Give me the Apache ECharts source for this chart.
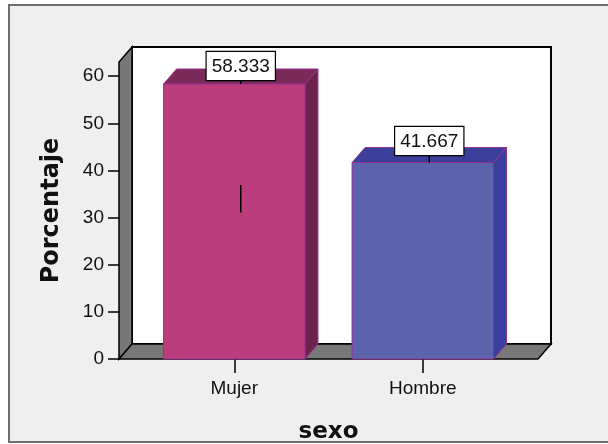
<!DOCTYPE html>
<html>
<head>
<meta charset="utf-8">
<script src="https://cdn.jsdelivr.net/npm/echarts@6/dist/echarts.min.js"></script>
<style>
  html, body { margin: 0; padding: 0; background: #ffffff; }
  #chart { width: 608px; height: 444px; }
</style>
</head>
<body>
<div id="chart"></div>
<script>
// Percentage of respondents by sex
const categories = ['Mujer', 'Hombre'];
const percentages = [58.333, 41.667];
const yTicks = [0, 10, 20, 30, 40, 50, 60];
// short vertical stroke shown inside the first bar (value range)
const innerStems = [[31.1, 36.9], null];

// 3D styling
const DEPTH_X = 13;
const DEPTH_Y = -15;
const PAD = 21;
const faceColors = {
  front: ['#bb3d7d', '#5b63ad'],
  top: ['#7a2a58', '#3b3f99'],
  side: ['#70224f', '#3a3e9c']
};
const edgeColor = '#93308f';
const wallColor = '#787878';

function renderFrame(params, api) {
  const cs = params.coordSys;
  const L = cs.x - PAD, R = cs.x + cs.width + PAD;
  const T = cs.y, B = cs.y + cs.height;
  return {
    type: 'group',
    children: [
      { type: 'rect', shape: { x: L + DEPTH_X, y: T + DEPTH_Y, width: R - L, height: B - T },
        style: { fill: '#ffffff', stroke: '#000000', lineWidth: 2 } },
      { type: 'polygon', shape: { points: [[L, B], [L, T], [L + DEPTH_X, T + DEPTH_Y], [L + DEPTH_X, B + DEPTH_Y]] },
        style: { fill: wallColor, stroke: '#000000', lineWidth: 1.5 } },
      { type: 'polygon', shape: { points: [[L, B], [R, B], [R + DEPTH_X, B + DEPTH_Y], [L + DEPTH_X, B + DEPTH_Y]] },
        style: { fill: wallColor, stroke: '#000000', lineWidth: 1.5 } }
    ]
  };
}

function renderBar(params, api) {
  const i = api.value(0);
  const v = api.value(1);
  const cs = params.coordSys;
  const top = api.coord([i, v]);
  const base = api.coord([i, 0]);
  const w = api.size([1, 0])[0] * 0.75;
  const x0 = top[0] - w / 2, x1 = top[0] + w / 2;
  const yt = top[1], yb = base[1];
  const edge = { stroke: edgeColor, lineWidth: 1 };
  const children = [
    { type: 'polygon', shape: { points: [[x1, yt], [x1 + DEPTH_X, yt + DEPTH_Y], [x1 + DEPTH_X, yb + DEPTH_Y], [x1, yb]] },
      style: Object.assign({ fill: faceColors.side[i] }, edge) },
    { type: 'polygon', shape: { points: [[x0, yt], [x1, yt], [x1 + DEPTH_X, yt + DEPTH_Y], [x0 + DEPTH_X, yt + DEPTH_Y]] },
      style: Object.assign({ fill: faceColors.top[i] }, edge) },
    { type: 'rect', shape: { x: x0, y: yt, width: w, height: yb - yt },
      style: Object.assign({ fill: faceColors.front[i] }, edge) }
  ];
  const lx = top[0] + DEPTH_X / 2;
  const boxH = 33;
  const lb = Math.max(yt + DEPTH_Y / 2, cs.y + DEPTH_Y + boxH);
  children.push({ type: 'line', shape: { x1: lx, y1: lb, x2: lx, y2: yt },
    style: { stroke: '#000000', lineWidth: 1.5 } });
  children.push({
    type: 'text',
    style: {
      text: v.toFixed(3), x: lx, y: lb, align: 'center', verticalAlign: 'bottom',
      fill: '#111111', font: '19px "Liberation Sans", Arial, sans-serif',
      backgroundColor: '#ffffff', borderColor: '#000000', borderWidth: 1.2,
      padding: [5, 5, 4, 5]
    }
  });
  const stem = innerStems[i];
  if (stem) {
    const a = api.coord([i, stem[0]]), b = api.coord([i, stem[1]]);
    children.push({ type: 'line', shape: { x1: lx, y1: a[1], x2: lx, y2: b[1] },
      style: { stroke: '#000000', lineWidth: 1.5 } });
  }
  return { type: 'group', children: children };
}

const chart = echarts.init(document.getElementById('chart'), null, { renderer: 'canvas' });
chart.setOption({
  animation: false,
  backgroundColor: '#ffffff',
  graphic: [{
    type: 'rect', z: -10, silent: true,
    shape: { x: 9, y: 5, width: 640, height: 437 },
    style: { fill: '#efefef', stroke: '#6f6f6f', lineWidth: 2 }
  }],
  grid: { left: 140, right: 91, top: 62, bottom: 85, containLabel: false, outerBoundsMode: 'none' },
  xAxis: {
    type: 'category',
    data: categories,
    axisLine: { show: false },
    axisTick: { show: true, alignWithLabel: true, length: 14, lineStyle: { color: '#000000', width: 1.5 } },
    axisLabel: { margin: 20, fontSize: 19, color: '#111111', fontFamily: '"Liberation Sans", Arial, sans-serif' },
    name: 'sexo',
    nameLocation: 'middle',
    nameGap: 62,
    nameTextStyle: { fontFamily: '"DejaVu Sans", sans-serif', fontWeight: 'bold', fontSize: 23, color: '#111111' }
  },
  yAxis: {
    type: 'value',
    min: 0,
    max: 63,
    offset: 21,
    splitLine: { show: false },
    axisLine: { show: false },
    axisTick: { show: true, length: 11, customValues: yTicks, lineStyle: { color: '#000000', width: 1.5 } },
    axisLabel: { margin: 15, customValues: yTicks, fontSize: 19, color: '#111111', fontFamily: '"Liberation Sans", Arial, sans-serif' },
    name: 'Porcentaje',
    nameLocation: 'middle',
    nameGap: 55,
    nameTextStyle: { fontFamily: '"DejaVu Sans", sans-serif', fontWeight: 'bold', fontSize: 24, color: '#111111' }
  },
  series: [
    { type: 'custom', z: 1, silent: true, data: [[0, 0]], renderItem: renderFrame },
    { type: 'custom', z: 3, silent: true,
      data: percentages.map((v, i) => [i, v]),
      encode: { x: 0, y: 1 },
      renderItem: renderBar }
  ]
});
</script>
</body>
</html>
